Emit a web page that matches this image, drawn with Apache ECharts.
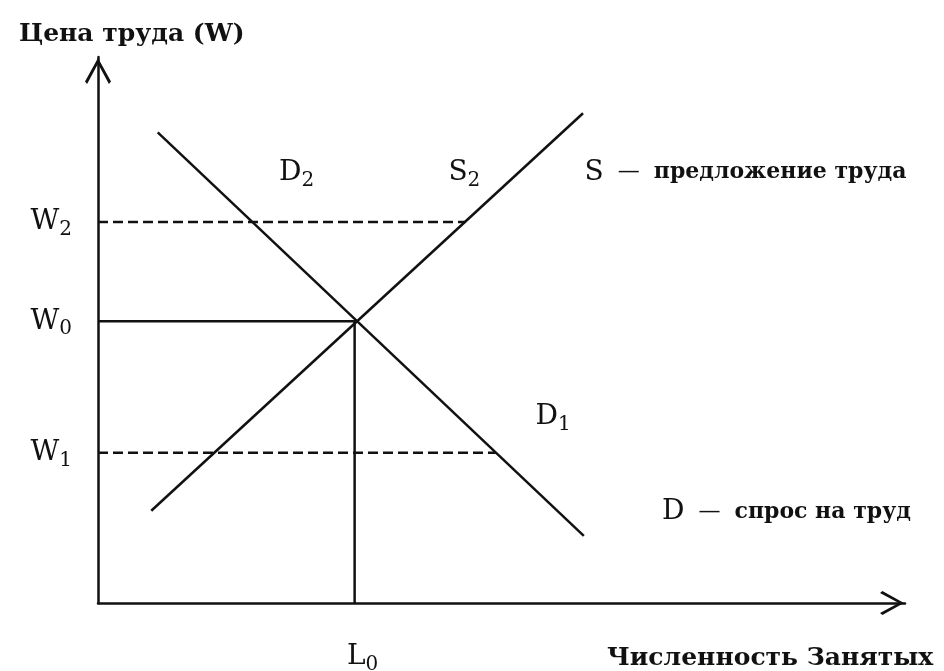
<!DOCTYPE html>
<html>
<head>
<meta charset="utf-8">
<script src="https://cdn.jsdelivr.net/npm/echarts@6/dist/echarts.min.js"></script>
<style>
  html, body { margin: 0; background: #fff; }
  #chart-container { width: 944px; height: 671px; }
</style>
</head>
<body>
<div id="chart-container"></div>
<script>
// curves (axis units 0..100)
const supplyX = [6.6, 60.1];
const supplyY = [16.9, 89.7];
const demandX = [7.4, 60.2];
const demandY = [86.2, 12.3];

// equilibrium
const L0 = 31.8;
const W0 = 51.6;

// dashed wage levels and where they stop
const dashedLevels = [69.8, 27.5];
const dashedEnds = [45.5, 49.3];

// wage tick labels
const wageNames = ["W", "W", "W"];
const wageSubs = ["2", "0", "1"];
const wageValues = [69.8, 51.6, 27.5];

// curve labels
const curveNames = ["D", "S", "D"];
const curveSubs = ["2", "2", "1"];
const curveLabelX = [24.6, 45.4, 56.4];
const curveLabelY = [78.8, 78.8, 34.1];

// notes on the right
const noteLetters = ["S", "D"];
const noteTexts = ["предложение труда", "спрос на труд"];
const noteX = [60.3, 69.9];
const noteY = [78.8, 16.7];

const yTitle = "Цена труда (W)";
const xTitle = "Численность Занятых";

(() => {
  var dom = document.getElementById("chart-container");
  var chart = echarts.init(dom, null, { renderer: "canvas" });

  const serif = "DejaVu Serif";
  const ink = "#111";
  const chevron = "path://M50,0 L100,90 L92,100 L50,22 L8,100 L0,90 Z";
  const rich = {
    m: { fontFamily: serif, fontSize: 28, color: ink },
    s: { fontFamily: serif, fontSize: 20, color: ink, padding: [16, 0, 0, 0] },
    d: { fontFamily: serif, fontSize: 22, color: ink },
    t: { fontFamily: serif, fontSize: 22, fontWeight: "bold", color: ink },
  };

  const lineStyle = { color: ink, width: 2.5 };

  const labelData = [];
  wageValues.forEach((v, i) => {
    labelData.push({
      value: [0, v],
      label: {
        position: "left",
        distance: 26,
        formatter: "{m|" + wageNames[i] + "}{s|" + wageSubs[i] + "}",
      },
    });
  });
  labelData.push({
    value: [L0, 0],
    label: { position: "bottom", distance: 36, offset: [8, 0], formatter: "{m|L}{s|0}" },
  });
  curveLabelX.forEach((x, i) => {
    labelData.push({
      value: [x, curveLabelY[i]],
      label: {
        position: "inside",
        formatter: "{m|" + curveNames[i] + "}{s|" + curveSubs[i] + "}",
      },
    });
  });
  noteX.forEach((x, i) => {
    labelData.push({
      value: [x, noteY[i]],
      label: {
        position: "inside",
        align: "left",
        formatter: "{m|" + noteLetters[i] + "}{d|  —  }{t|" + noteTexts[i] + "}",
      },
    });
  });

  const option = {
    animation: false,
    backgroundColor: "#fff",
    title: [
      {
        text: yTitle,
        left: 14,
        top: 17,
        textStyle: { fontFamily: serif, fontSize: 25, fontWeight: "bold", color: ink },
      },
      {
        text: xTitle,
        left: 602,
        top: 641,
        textStyle: { fontFamily: serif, fontSize: 25, fontWeight: "bold", color: ink },
      },
    ],
    grid: { left: 98, right: 39, top: 57, bottom: 68 },
    xAxis: {
      type: "value",
      min: 0,
      max: 100,
      axisLine: {
        lineStyle: { color: ink, width: 2.5 },
        symbol: ["none", chevron],
        symbolSize: [24, 26],
        symbolOffset: [0, -13],
      },
      axisTick: { show: false },
      axisLabel: { show: false },
      splitLine: { show: false },
    },
    yAxis: {
      type: "value",
      min: 0,
      max: 100,
      axisLine: {
        show: true,
        lineStyle: { color: ink, width: 2.5 },
        symbol: ["none", chevron],
        symbolSize: [26, 28],
        symbolOffset: [0, -14],
      },
      axisTick: { show: false },
      axisLabel: { show: false },
      splitLine: { show: false },
    },
    series: [
      {
        name: "S",
        type: "line",
        symbol: "none",
        lineStyle: lineStyle,
        data: supplyX.map((x, i) => [x, supplyY[i]]),
      },
      {
        name: "D",
        type: "line",
        symbol: "none",
        lineStyle: lineStyle,
        data: demandX.map((x, i) => [x, demandY[i]]),
      },
      {
        name: "equilibrium",
        type: "line",
        symbol: "none",
        lineStyle: lineStyle,
        data: [[0, W0], [L0, W0], [L0, 0]],
      },
      ...dashedLevels.map((w, i) => ({
        name: "dashed" + i,
        type: "line",
        symbol: "none",
        lineStyle: { color: ink, width: 2.5, type: [10, 5] },
        data: [[0, w], [dashedEnds[i], w]],
      })),
      {
        name: "labels",
        type: "scatter",
        symbolSize: 0,
        silent: true,
        itemStyle: { opacity: 1, color: "transparent" },
        label: { show: true, color: ink, opacity: 1, rich: rich },
        data: labelData,
      },
    ],
  };
  chart.setOption(option);
  window.addEventListener("resize", chart.resize);
})();
</script>
</body>
</html>
